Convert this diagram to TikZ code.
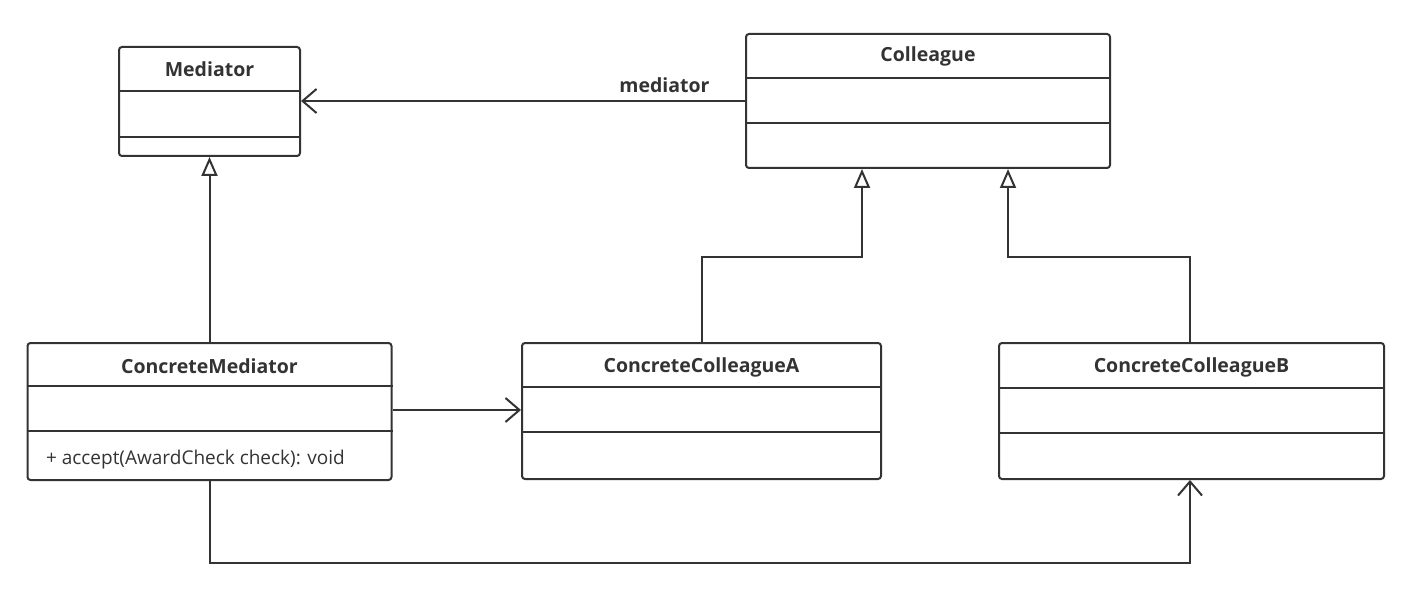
\documentclass[tikz,border=0pt]{standalone}
\usepackage{fontspec}
\setmainfont{Open Sans}
\usetikzlibrary{arrows.meta}
\definecolor{umlline}{HTML}{333333}
\tikzset{
  umlbox/.style={draw=umlline, line width=2pt, rounded corners=3pt, inner sep=0pt},
  umltitle/.style={font=\fontsize{19.5}{22}\selectfont\bfseries, text=umlline},
  umltext/.style={font=\fontsize{19}{22}\selectfont, text=umlline, anchor=west},
  divider/.style={draw=umlline, line width=2pt},
  assoc/.style={draw=umlline, line width=2pt, -{Straight Barb[length=14pt, width=24pt, line width=2pt]}},
  inherit/.style={draw=umlline, line width=2pt, -{Triangle[open, length=19pt, width=16pt, line width=2pt]}},
}
\begin{document}
\begin{tikzpicture}[x=1pt, y=-1pt]
    \useasboundingbox (0,0) rectangle (1411,604);

    % ===== Classes =====
    % Mediator
    \node[umlbox, minimum width=181pt, minimum height=109pt] (med) at (209.5,101.5) {};
    \node[umltitle] (medT) at ([yshift=-23pt]med.north) {Mediator};
    \draw[divider] ([yshift=-45pt]med.north west) -- ([yshift=-45pt]med.north east);
    \draw[divider] ([yshift=-91pt]med.north west) -- ([yshift=-91pt]med.north east);

    % Colleague
    \node[umlbox, minimum width=364pt, minimum height=134pt] (col) at (928,101) {};
    \node[umltitle] (colT) at ([yshift=-23pt]col.north) {Colleague};
    \draw[divider] ([yshift=-45pt]col.north west) -- ([yshift=-45pt]col.north east);
    \draw[divider] ([yshift=-90pt]col.north west) -- ([yshift=-90pt]col.north east);

    % ConcreteMediator
    \node[umlbox, minimum width=364pt, minimum height=137pt] (cmed) at (209.5,411.5) {};
    \node[umltitle] (cmedT) at ([yshift=-24pt]cmed.north) {ConcreteMediator};
    \draw[divider] ([yshift=-44pt]cmed.north west) -- ([yshift=-44pt]cmed.north east);
    \draw[divider] ([yshift=-89pt]cmed.north west) -- ([yshift=-89pt]cmed.north east);
    \node[umltext] (cmedM) at ([xshift=16pt, yshift=-118pt]cmed.north west) {+ accept(AwardCheck check): void};

    % ConcreteColleagueA
    \node[umlbox, minimum width=359pt, minimum height=136pt] (cca) at (701.5,411) {};
    \node[umltitle] (ccaT) at ([yshift=-25pt]cca.north) {ConcreteColleagueA};
    \draw[divider] ([yshift=-45pt]cca.north west) -- ([yshift=-45pt]cca.north east);
    \draw[divider] ([yshift=-90pt]cca.north west) -- ([yshift=-90pt]cca.north east);

    % ConcreteColleagueB
    \node[umlbox, minimum width=385pt, minimum height=136pt] (ccb) at (1191.5,411) {};
    \node[umltitle] (ccbT) at ([yshift=-25pt]ccb.north) {ConcreteColleagueB};
    \draw[divider] ([yshift=-46pt]ccb.north west) -- ([yshift=-46pt]ccb.north east);
    \draw[divider] ([yshift=-91pt]ccb.north west) -- ([yshift=-91pt]ccb.north east);

    % ===== Relations =====
    \draw[assoc] (col.west |- 0,101) -- (med.east |- 0,101)
        node[umltitle, pos=0.07, anchor=south east, yshift=4pt] (medL) {mediator};
    \draw[inherit] (cmed.north) -- (med.south);
    \draw[inherit] (cca.north -| 702,0) |- (782,257) -| (col.south -| 862,0);
    \draw[inherit] (ccb.north -| 1190,0) |- (1100,257) -| (col.south -| 1008,0);
    \draw[assoc] (cmed.east |- 0,410) -- (cca.west |- 0,410);
    \draw[assoc] (cmed.south) |- (700,563) -| (ccb.south -| 1190,0);
\end{tikzpicture}
\end{document}
